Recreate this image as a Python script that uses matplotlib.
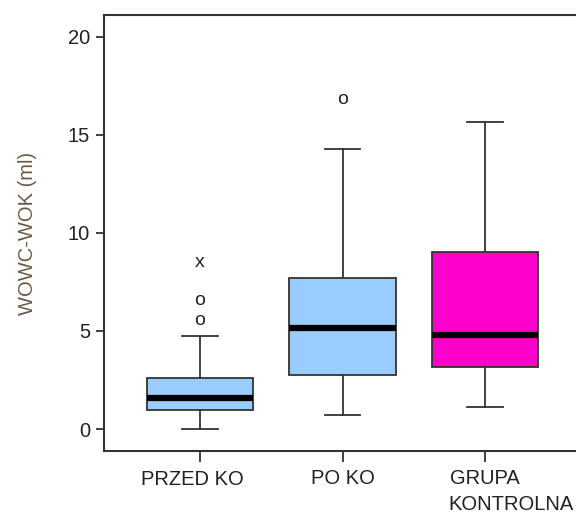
import numpy as np
import matplotlib
matplotlib.use("Agg")
from matplotlib import pyplot as plt
import matplotlib.transforms as mtransforms

plt.rcParams['font.family'] = ['Liberation Sans', 'DejaVu Sans']

groups = ["PRZED KO", "PO KO", "GRUPA"]
q1 = [0.97, 2.76, 3.16]
med = [1.58, 5.15, 4.80]
q3 = [2.62, 7.70, 9.03]
whislo = [0.0, 0.71, 1.12]
whishi = [4.74, 14.29, 15.66]
box_colors = ["#99CCFF", "#99CCFF", "#FF00CC"]

# outliers drawn SPSS-style as letters
out_pos = [1, 1, 1, 2]
out_val = [5.53, 6.58, 8.48, 16.80]
out_sym = ["o", "o", "x", "o"]

fig = plt.figure(figsize=(5.76, 5.17), dpi=100)
ax = fig.add_axes([104/576, 66/517, 477/576, 436/517])

stats = []
for i in range(3):
    stats.append({"q1": q1[i], "med": med[i], "q3": q3[i],
                  "whislo": whislo[i], "whishi": whishi[i], "fliers": []})

edge = "#333333"
bp = ax.bxp(stats, positions=[1, 2, 3], widths=0.75, patch_artist=True,
            showfliers=False,
            boxprops=dict(edgecolor=edge, linewidth=1.3),
            whiskerprops=dict(color=edge, linewidth=1.3),
            capprops=dict(color=edge, linewidth=1.3),
            medianprops=dict(color="black", linewidth=4.5, solid_capstyle="butt"),
            capwidths=0.25)
for patch, c in zip(bp["boxes"], box_colors):
    patch.set_facecolor(c)

for p, v, s in zip(out_pos, out_val, out_sym):
    ax.text(p, v, s, ha="center", va="center", fontsize=14, color="#222222")

fs = 14.5
ax.set_xlim(0.326, 3.674)
ax.set_ylim(-1.122, 21.12)
ax.set_yticks([0, 5, 10, 15, 20])
ax.set_xticks([1, 2, 3])
ax.set_xticklabels(["", groups[1], groups[2]])
ax.tick_params(axis="y", length=6, width=1.3, pad=4, labelsize=fs, colors="#333333", labelcolor="#222222")
ax.tick_params(axis="x", length=8, width=1.3, pad=5, labelsize=fs, colors="#333333", labelcolor="#222222")

# first label sits a bit left of its tick, second line of the last one is left-aligned
trans = mtransforms.blended_transform_factory(ax.transData, ax.transAxes)
ax.text(0.944, -0.0425, groups[0], transform=trans, ha="center", va="top",
        fontsize=fs, color="#222222")
ax.text(2.74, -0.100, "KONTROLNA", transform=trans, ha="left", va="top",
        fontsize=fs, color="#222222")

ax.set_ylabel("WOWC-WOK (ml)", fontsize=fs, color="#6b5b45", labelpad=22)

for sp in ax.spines.values():
    sp.set_linewidth(1.5)
    sp.set_color("#333333")

fig.savefig("out.png", dpi=100)
